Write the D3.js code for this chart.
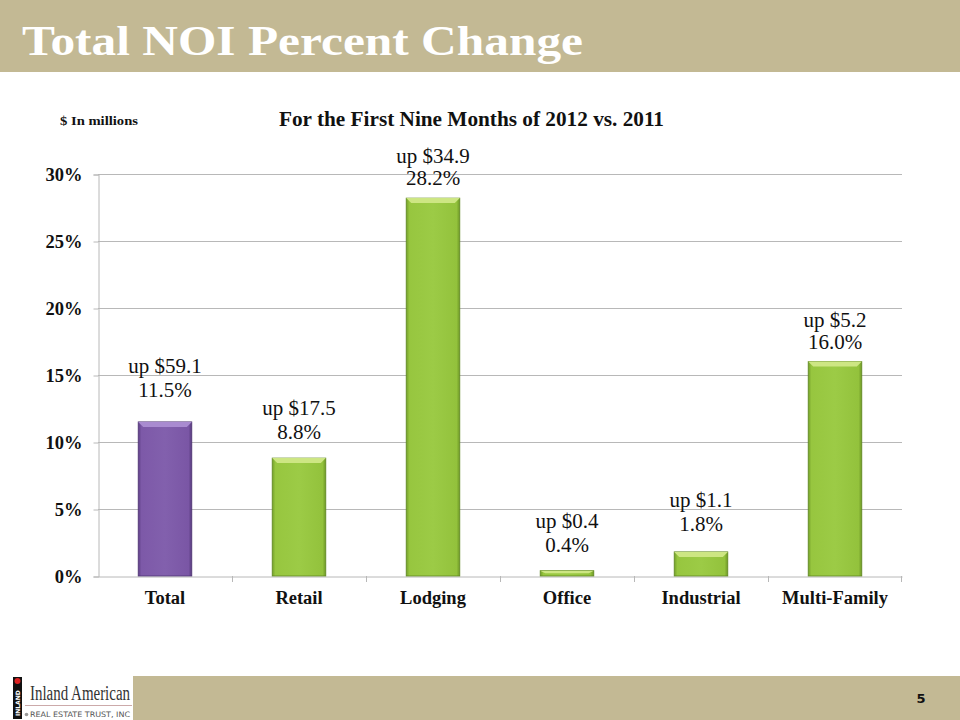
<!DOCTYPE html>
<html><head><meta charset="utf-8">
<script src="https://cdn.jsdelivr.net/npm/d3@7"></script>
<style>body{margin:0;background:#fff}svg{display:block}</style>
</head><body>
<script>
const categories = ["Total","Retail","Lodging","Office","Industrial","Multi-Family"];
const pctValues = [11.5, 8.8, 28.2, 0.4, 1.8, 16.0];
const dollarValues = ["59.1","17.5","34.9","0.4","1.1","5.2"];
const yTicks = [0,5,10,15,20,25,30];

const W=960,H=720;
const svg=d3.select("body").append("svg").attr("width",W).attr("height",H);
const defs=svg.append("defs");
const hdr="#c3b994";
svg.append("rect").attr("x",0).attr("y",0).attr("width",W).attr("height",72).attr("fill",hdr);
svg.append("rect").attr("x",133).attr("y",676).attr("width",W-133).attr("height",44).attr("fill",hdr);

svg.append("text").attr("x",22).attr("y",55).text("Total NOI Percent Change")
  .attr("font-family","Liberation Serif, serif").attr("font-weight","bold").attr("font-size",43)
  .attr("fill","#fff").attr("textLength",561).attr("lengthAdjust","spacingAndGlyphs");

svg.append("text").attr("x",921).attr("y",703).text("5").attr("text-anchor","middle")
  .attr("font-family","DejaVu Sans, sans-serif").attr("font-weight","bold").attr("font-size",13).attr("fill","#111");

// logo
svg.append("rect").attr("x",13).attr("y",677).attr("width",9).attr("height",42).attr("fill","#111");
svg.append("circle").attr("cx",17.5).attr("cy",681).attr("r",3).attr("fill","#d22");
svg.append("text").attr("transform","translate(20,716) rotate(-90)").text("INLAND")
  .attr("font-family","DejaVu Sans, sans-serif").attr("font-weight","bold").attr("font-size",6).attr("fill","#fff");
svg.append("text").attr("x",30).attr("y",700).text("Inland American")
  .attr("font-family","Liberation Serif, serif").attr("font-size",20).attr("fill","#333")
  .attr("textLength",100).attr("lengthAdjust","spacingAndGlyphs");
svg.append("line").attr("x1",25).attr("x2",132).attr("y1",705.5).attr("y2",705.5).attr("stroke","#caa").attr("stroke-width",1);
svg.append("text").attr("x",30).attr("y",717).text("REAL ESTATE TRUST, INC")
  .attr("font-family","DejaVu Sans, sans-serif").attr("font-size",7.5).attr("fill","#555")
  .attr("textLength",100).attr("lengthAdjust","spacingAndGlyphs");
svg.append("circle").attr("cx",26.5).attr("cy",714.5).attr("r",1.8).attr("fill","#999");

// titles
svg.append("text").attr("x",279).attr("y",126).text("For the First Nine Months of 2012 vs. 2011")
  .attr("font-family","Liberation Serif, serif").attr("font-weight","bold").attr("font-size",20).attr("fill","#111")
  .attr("textLength",385).attr("lengthAdjust","spacingAndGlyphs");
svg.append("text").attr("x",60).attr("y",125).text("$ In millions")
  .attr("font-family","Liberation Serif, serif").attr("font-weight","bold").attr("font-size",13).attr("fill","#111")
  .attr("textLength",78).attr("lengthAdjust","spacingAndGlyphs");

// scales
const x=d3.scaleBand().domain(categories).range([98,902]).padding(0);
const y=d3.scaleLinear().domain([0,30]).range([576,174]);

// gridlines
svg.append("g").selectAll("line").data(yTicks.filter(d=>d>0)).join("line")
  .attr("x1",98).attr("x2",902).attr("y1",d=>y(d)+0.5).attr("y2",d=>y(d)+0.5)
  .attr("stroke","#b8b8b8").attr("stroke-width",1);

// y axis
const yAxis=svg.append("g").attr("transform","translate(98.5,0.5)")
  .call(d3.axisLeft(y).tickValues(yTicks).tickFormat(d=>d+"%").tickSize(5).tickPadding(11));
yAxis.select(".domain").attr("stroke","#b8b8b8");
yAxis.selectAll(".tick line").attr("stroke","#b8b8b8");
yAxis.selectAll("text").attr("font-family","Liberation Serif, serif").attr("font-weight","bold")
  .attr("font-size",18.5).attr("fill","#111").attr("dy","0.35em");

// x axis
const xAxis=svg.append("g").attr("transform","translate(0,576.5)")
  .call(d3.axisBottom(x).tickSize(0).tickPadding(14));
xAxis.select(".domain").attr("stroke","#b8b8b8");
xAxis.selectAll("text").attr("font-family","Liberation Serif, serif").attr("font-weight","bold")
  .attr("font-size",18.5).attr("fill","#111");
svg.append("g").selectAll("line").data(categories.slice(1)).join("line")
  .attr("x1",d=>Math.round(x(d))+0.5).attr("x2",d=>Math.round(x(d))+0.5)
  .attr("y1",576).attr("y2",582).attr("stroke","#b8b8b8");
svg.append("line").attr("x1",901.5).attr("x2",901.5).attr("y1",576).attr("y2",582).attr("stroke","#b8b8b8");

// gradients
function grad(id,stops){
  const g=defs.append("linearGradient").attr("id",id).attr("x1",0).attr("x2",1).attr("y1",0).attr("y2",0);
  stops.forEach(s=>g.append("stop").attr("offset",s[0]).attr("stop-color",s[1]));
}
grad("gPurple",[[0,"#5e3f86"],[0.06,"#7d59a8"],[0.5,"#8260ad"],[0.94,"#7a56a5"],[1,"#563a7c"]]);
grad("gGreen",[[0,"#74a02a"],[0.06,"#97c63f"],[0.5,"#9ccb46"],[0.94,"#93c23c"],[1,"#6e9826"]]);

const bw=x.bandwidth()*0.4;
const bx=d=>x(d)+(x.bandwidth()-bw)/2;
const bars=svg.append("g").selectAll("g").data(categories).join("g");
bars.append("rect").attr("x",d=>bx(d)).attr("width",bw)
  .attr("y",(d,i)=>y(pctValues[i])).attr("height",(d,i)=>y(0)-y(pctValues[i]))
  .attr("fill",(d,i)=>i===0?"url(#gPurple)":"url(#gGreen)")
  .attr("stroke",(d,i)=>i===0?"#4f3573":"#5f8722").attr("stroke-width",0.8);
bars.append("path").attr("d",(d,i)=>{
  const x0=bx(d),x1=x0+bw,t=y(pctValues[i]),h=Math.min(5,(y(0)-t)/2);
  return `M${x0},${t}L${x1},${t}L${x1-5},${t+h}L${x0+5},${t+h}Z`;
}).attr("fill",(d,i)=>i===0?"#a98bd0":"#cde683");

// labels
const labelGap=[25,19,13,19,21,13];
const labelLine=[24,24,22,24,24,22];
const lab=svg.append("g").attr("font-family","Liberation Serif, serif").attr("font-size",21)
  .attr("fill","#111").attr("text-anchor","middle");
categories.forEach((c,i)=>{
  const cx=x(c)+x.bandwidth()/2;
  const base=y(pctValues[i])-labelGap[i];
  lab.append("text").attr("x",cx).attr("y",base-labelLine[i]).text("up $"+dollarValues[i]);
  lab.append("text").attr("x",cx).attr("y",base).text(pctValues[i].toFixed(1)+"%");
});
</script>
</body></html>
